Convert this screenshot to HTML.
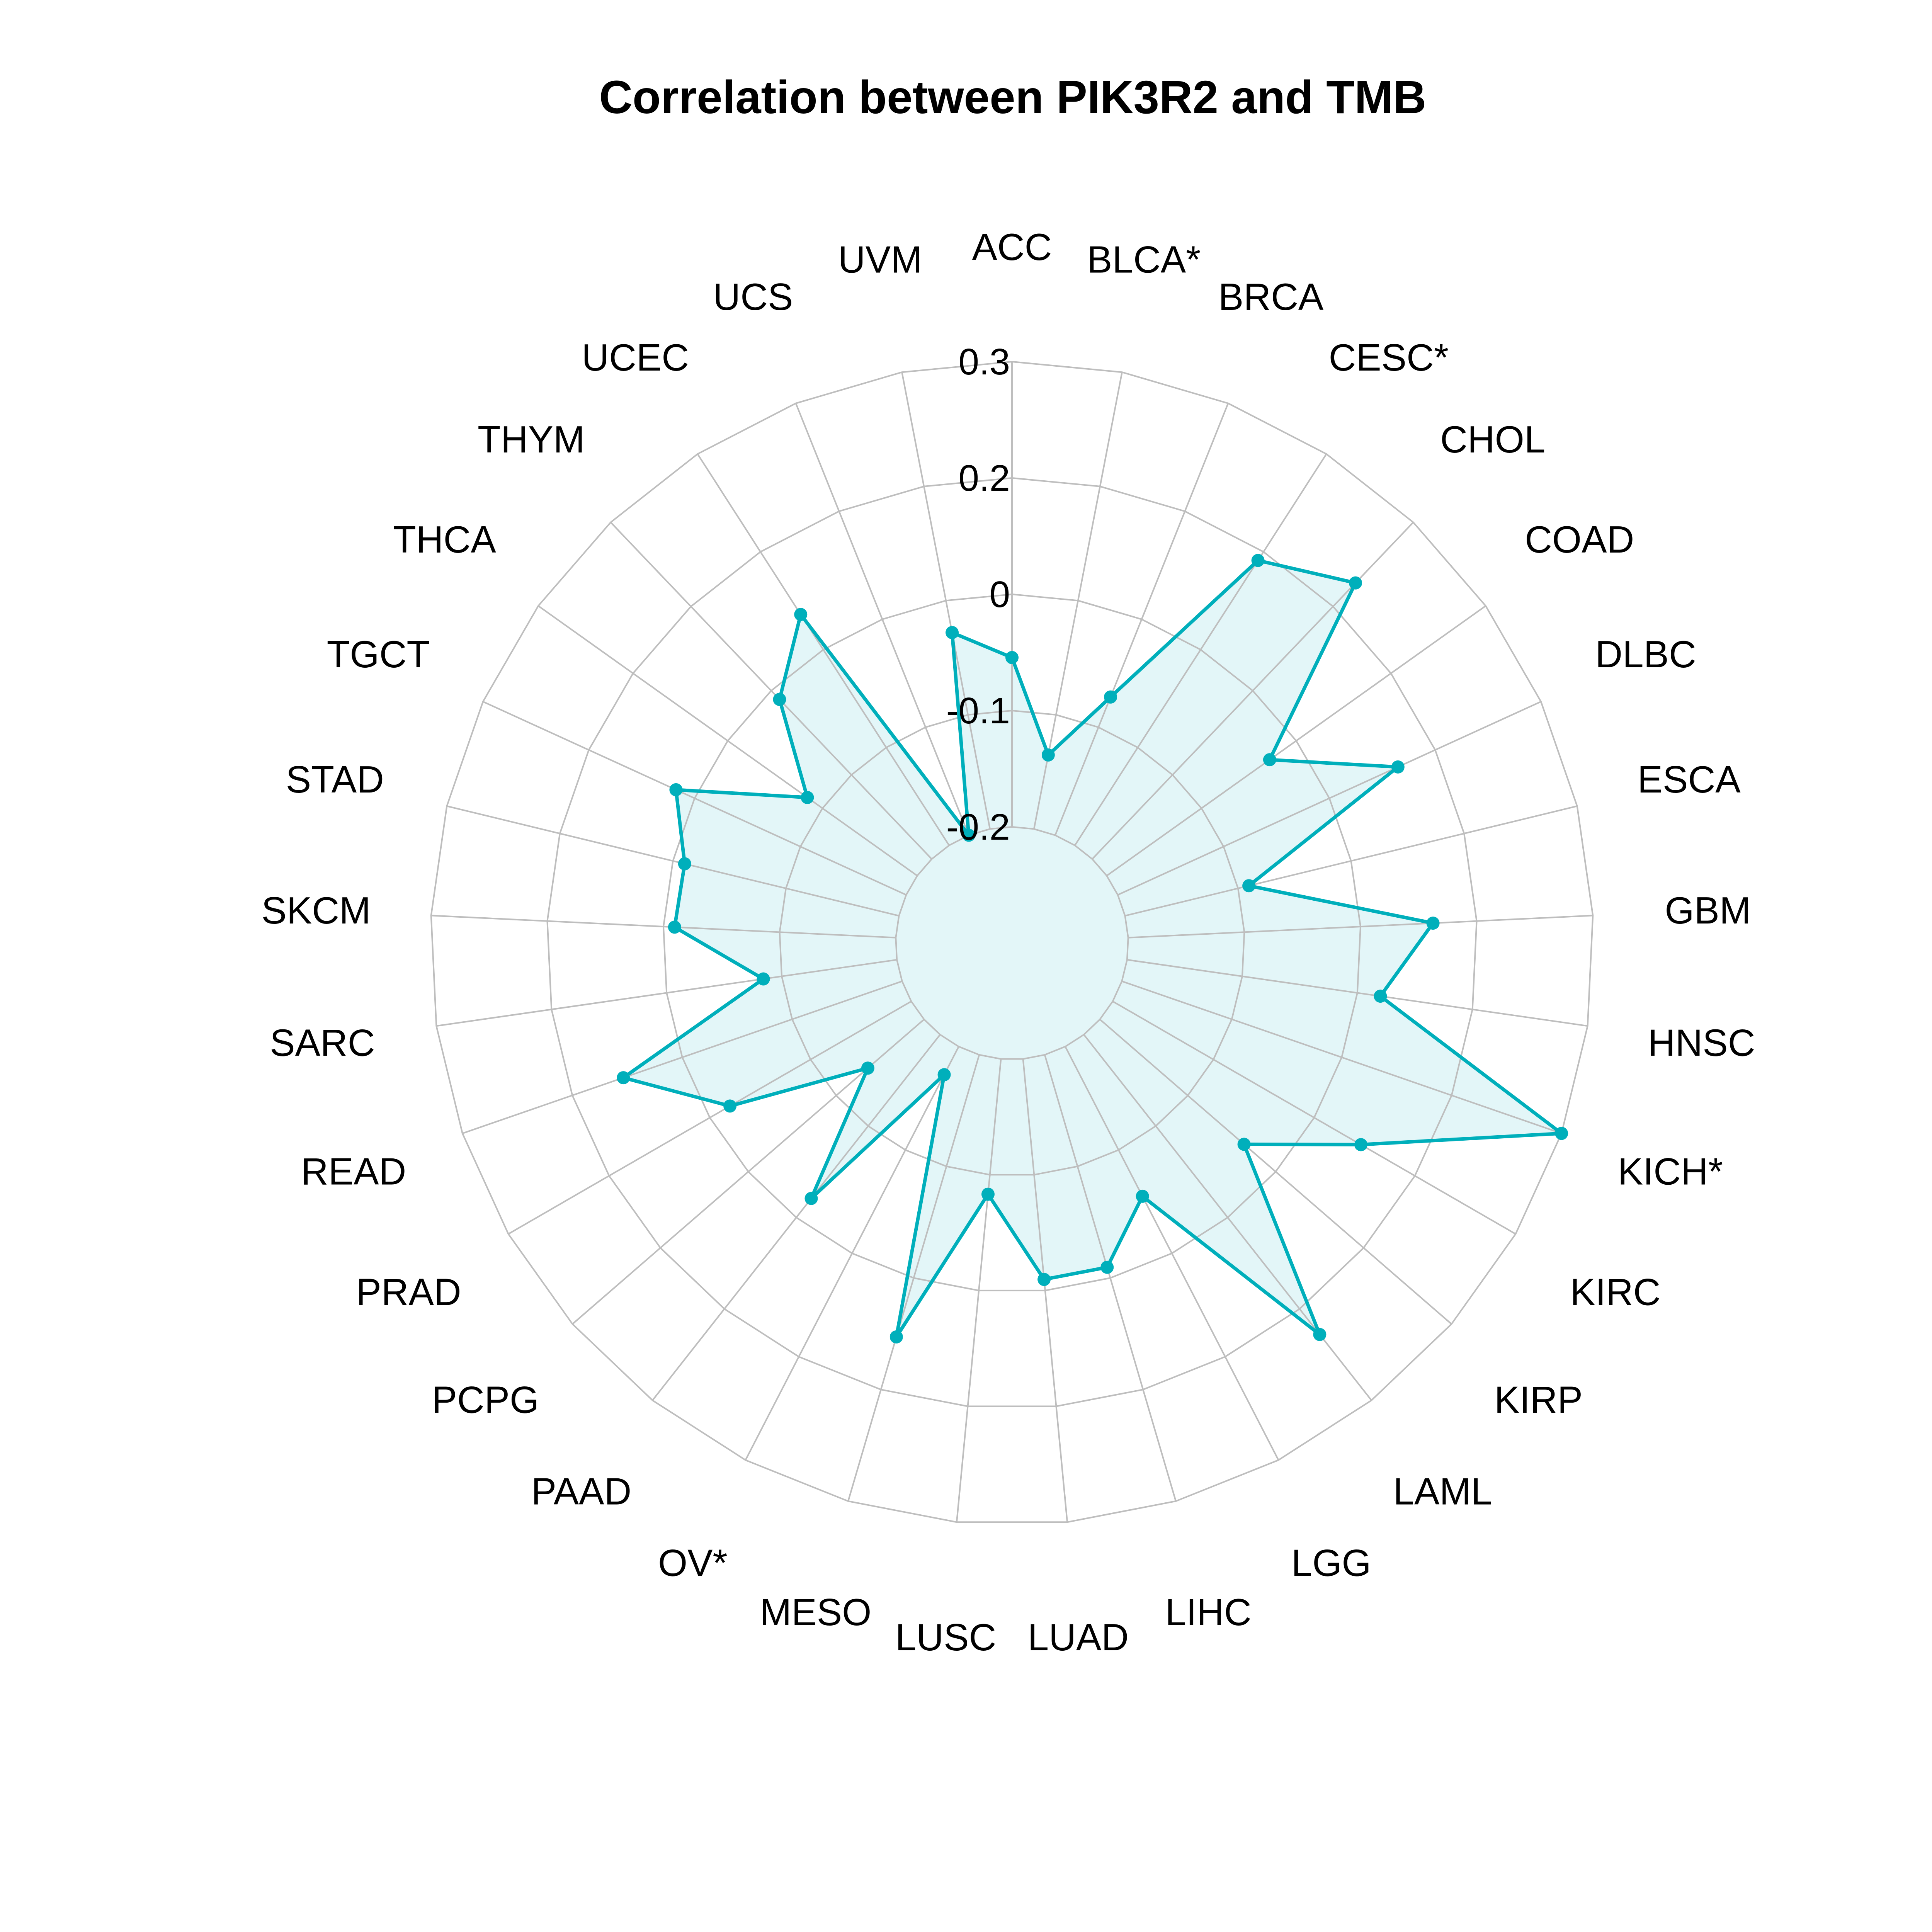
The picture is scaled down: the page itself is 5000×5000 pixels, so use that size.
<!DOCTYPE html>
<html>
<head>
<meta charset="utf-8">
<style>
  html, body { margin: 0; padding: 0; background: #ffffff; }
  svg { display: block; }
  text { font-family: "Liberation Sans", "DejaVu Sans", sans-serif; }
</style>
</head>
<body>
<svg id="chart" width="5000" height="5000" viewBox="0 0 5000 5000" xmlns="http://www.w3.org/2000/svg">
  <rect x="0" y="0" width="5000" height="5000" fill="#ffffff"/>
  <text x="2621" y="293" text-anchor="middle" font-size="121" font-weight="bold" textLength="2141" lengthAdjust="spacingAndGlyphs">Correlation between PIK3R2 and TMB</text>
  <g id="fill-layer"></g>
  <g id="grid-layer"></g>
  <g id="series-layer"></g>
  <g id="tick-layer"></g>
  <g id="label-layer"></g>
</svg>
<script>
const categories = ["ACC","BLCA*","BRCA","CESC*","CHOL","COAD","DLBC","ESCA","GBM","HNSC","KICH*","KIRC","KIRP","LAML","LGG","LIHC","LUAD","LUSC","MESO","OV*","PAAD","PCPG","PRAD","READ","SARC","SKCM","STAD","TGCT","THCA","THYM","UCEC","UCS","UVM"];
const values = [-0.018,-0.119,-0.04,0.164,0.21,0.015,0.131,-0.063,0.128,0.075,0.3,0.108,0.005,0.21,-0.019,0.038,0.038,-0.054,0.116,-0.166,0.024,-0.12,0.025,0.117,-0.055,0.038,0.037,0.072,-0.055,0.037,0.095,-0.2,0.015];
const tickValues = [-0.2,-0.075,0.05,0.175,0.3];
const tickLabels = ["-0.2","-0.1","0","0.2","0.3"];
const rMin = -0.325, rMax = 0.3;

const NS = "http://www.w3.org/2000/svg";
const cx = 2619, cy = 2441, R = 1505, labelR = 1803;
function rScale(v){ return (v - rMin) / (rMax - rMin) * R; }
function ang(i){ return i * 2 * Math.PI / categories.length; }
function pt(i, r){ return [cx + r * Math.sin(ang(i)), cy - r * Math.cos(ang(i))]; }
function mk(tag, attrs, parent){
  const el = document.createElementNS(NS, tag);
  for (const k in attrs) el.setAttribute(k, attrs[k]);
  parent.appendChild(el);
  return el;
}
const n = categories.length;
const fillL = document.getElementById("fill-layer");
const gridL = document.getElementById("grid-layer");
const serL = document.getElementById("series-layer");
const tickL = document.getElementById("tick-layer");
const labL = document.getElementById("label-layer");

// fill
const dataPts = values.map((v, i) => pt(i, rScale(v)).map(c => c.toFixed(1)).join(","));
const fillPoly = mk("polygon", {points: dataPts.join(" "), fill: "#e3f6f8", stroke: "none"}, fillL);



// rings
tickValues.forEach((t, k) => {
  const r = rScale(t);
  const ps = [];
  for (let i = 0; i < n; i++) ps.push(pt(i, r).map(c => c.toFixed(1)).join(","));
  const ring = mk("polygon", {points: ps.join(" "), fill: "none", stroke: "#bebebe", "stroke-width": 4}, gridL);
  
  
});
// spokes
for (let i = 0; i < n; i++) {
  const a = pt(i, rScale(tickValues[0])), b = pt(i, rScale(tickValues[tickValues.length - 1]));
  const sp = mk("line", {x1: a[0], y1: a[1], x2: b[0], y2: b[1], stroke: "#bebebe", "stroke-width": 4}, gridL);
  
  
}
// series line
const line = mk("polygon", {points: dataPts.join(" "), fill: "none", stroke: "#00afbb", "stroke-width": 9, "stroke-linejoin": "round"}, serL);


values.forEach((v, i) => {
  const p = pt(i, rScale(v));
  const c = mk("circle", {cx: p[0], cy: p[1], r: 17, fill: "#00afbb"}, serL);
  
  
});
// ticks
tickValues.forEach((t, k) => {
  const y = cy - rScale(t);
  const tx = mk("text", {x: cx - 5, y: y + 33, "text-anchor": "end", "font-size": 96, fill: "#000"}, tickL);
  tx.textContent = tickLabels[k];
  
  
});
// labels
categories.forEach((c, i) => {
  const p = pt(i, labelR);
  const tx = mk("text", {x: p[0], y: p[1] + 35, "text-anchor": "middle", "font-size": 98, fill: "#000"}, labL);
  tx.textContent = c;
  
  
});
</script>
</body>
</html>
